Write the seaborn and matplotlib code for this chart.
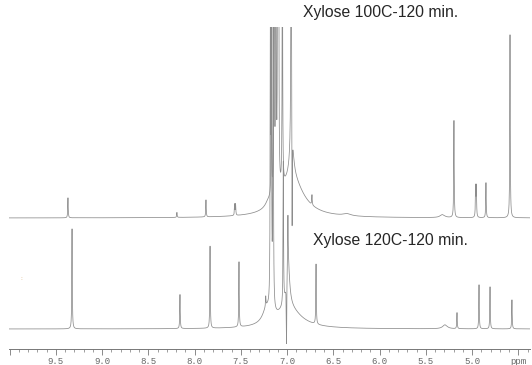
import numpy as np
import matplotlib
matplotlib.use('Agg')
import matplotlib.pyplot as plt
import seaborn as sns

# peak tables (ppm, height, half width)
top_pos = [9.368, 8.19, 7.876, 7.566, 7.556, 7.20, 7.17, 7.14, 7.12, 7.10, 7.09, 7.05,
           6.955, 6.945, 6.95, 6.95, 6.73, 6.35, 5.32, 5.195, 4.961, 4.953, 4.849, 4.589]
top_hgt = [20, 5, 17, 11, 11, 6, 150, 400, 400, 400, 300, 300,
           400, -124, 40, 45, 10, 2, 3, 97, 30, 30, 35, 183]
top_wid = [.003, .003, .003, .003, .003, .04, .003, .003, .003, .003, .003, .003,
           .003, .003, .15, .02, .003, .05, .03, .003, .003, .003, .003, .003]

bot_pos = [9.324, 8.157, 7.832, 7.519, 7.22, 7.23, 7.18, 7.17, 7.15, 7.04,
           7.005, 6.99, 6.99, 6.98, 6.686, 5.292, 5.162, 4.924, 4.805, 4.568]
bot_hgt = [100, 34, 82, 65, 15, 10, 261, 400, 400, 142,
           -70, 45, 50, 20, 60, 4, 16, 44, 42, 29]
bot_wid = [.003, .003, .003, .003, .05, .003, .003, .003, .003, .003,
           .003, .003, .02, .16, .003, .03, .003, .003, .003, .003]

labels = ['Xylose 100C-120 min.', 'Xylose 120C-120 min.']

ppm = np.arange(4.3, 10.05, 0.0005)


def spectrum(pos, hgt, wid):
    y = np.zeros_like(ppm)
    for p, h, w in zip(pos, hgt, wid):
        y += h * w**2 / ((ppm - p)**2 + w**2)
    return y


sns.set_style('white')

fig = plt.figure(figsize=(5.32, 3.65), dpi=100)
ax = fig.add_axes([8.6 / 532, 16 / 365, (530 - 8.6) / 532, 322 / 365])

line_col = '#8c8c8c'
sns.lineplot(x=ppm, y=spectrum(top_pos, top_hgt, top_wid) + 131, ax=ax,
             color=line_col, lw=0.55, estimator=None, sort=False)
sns.lineplot(x=ppm, y=spectrum(bot_pos, bot_hgt, bot_wid) + 20, ax=ax,
             color=line_col, lw=0.55, estimator=None, sort=False)

ax.set_xlim(10.01, 4.373)
ax.set_ylim(0, 322)

major = np.arange(4.5, 10.01, 0.5)
ax.set_xticks(major)
ax.set_xticklabels(['ppm' if abs(v - 4.5) < 1e-6 else ('' if v > 9.9 else f'{v:.1f}')
                    for v in major], family='Liberation Mono')
ax.set_xticks(np.arange(4.4, 10.01, 0.1), minor=True)
ax.tick_params(axis='x', which='major', direction='out', length=4, width=0.6,
               color='#777777', labelcolor='#666666', labelsize=6.5, pad=2, bottom=True)
ax.tick_params(axis='x', which='minor', direction='out', length=2, width=0.5,
               color='#777777', bottom=True)
ax.set_yticks([])
ax.set_xlabel('')
ax.set_ylabel('')
for s in ['left', 'top', 'right']:
    ax.spines[s].set_visible(False)
ax.spines['bottom'].set_color('#777777')
ax.spines['bottom'].set_linewidth(0.7)
ax.patch.set_alpha(0)

fig.text(303 / 532, 1 - 13 / 365, labels[0], ha='left', va='center',
         fontsize=11.3, family='Liberation Sans')
fig.text(313 / 532, 1 - 240 / 365, labels[1], ha='left', va='center',
         fontsize=11.3, family='Liberation Sans')
fig.text(21 / 532, 1 - 279 / 365, ':', ha='center', va='center',
         fontsize=4, color='#d4a060')

fig.savefig('out.png', dpi=100)
